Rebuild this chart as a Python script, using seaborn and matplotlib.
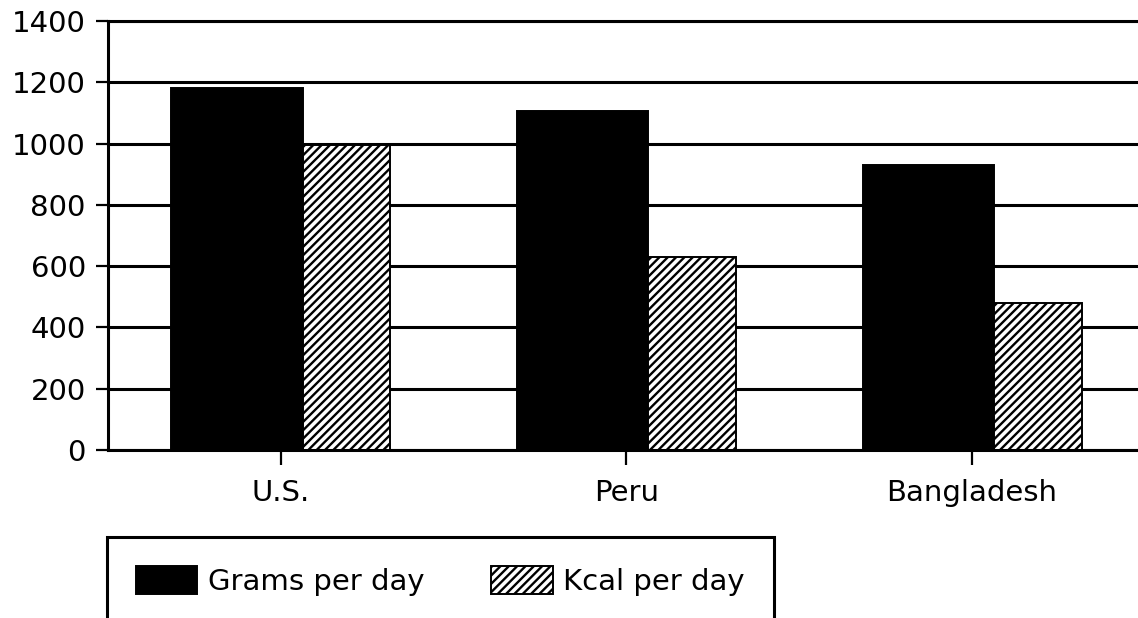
import pandas as pd
import matplotlib
matplotlib.use('Agg')
import matplotlib.pyplot as plt
import seaborn as sns

# Values
countries = ['U.S.', 'Peru', 'Bangladesh']
grams_per_day = [1180, 1105, 930]
kcal_per_day = [995, 630, 480]
series_names = ['Grams per day', 'Kcal per day']
y_ticks = [0, 200, 400, 600, 800, 1000, 1200, 1400]

df = pd.DataFrame({
    'country': countries * 2,
    'value': grams_per_day + kcal_per_day,
    'measure': [series_names[0]] * len(countries) + [series_names[1]] * len(countries),
})

sns.set_style('white')
plt.rcParams['font.family'] = ['DejaVu Sans']
plt.rcParams['text.color'] = 'black'
plt.rcParams['hatch.linewidth'] = 1.7
plt.rcParams['hatch.color'] = 'black'

fig = plt.figure(figsize=(11.38, 6.18), dpi=100)
ax = fig.add_axes([108 / 1138, 1 - 450 / 618, 1 - 108 / 1138, (450 - 21) / 618])

sns.barplot(data=df, x='country', y='value', hue='measure',
            palette=['black', 'white'], width=0.634, edgecolor='black',
            linewidth=1.4, saturation=1, legend=False, ax=ax)

# the black bars are wider than the hatched ones in the original
for p in ax.containers[0].patches:
    p.set_width(0.38)
for p in ax.containers[1].patches:
    p.set_x(p.get_x() + 0.063)
    p.set_width(0.254)
    p.set_hatch('////')

ax.set_xlim(-0.5, 2.48)
ax.set_ylim(0, 1400)
ax.set_yticks(y_ticks)
ax.set_xlabel('')
ax.set_ylabel('')

ax.yaxis.grid(True, color='black', linewidth=2.2)
ax.xaxis.grid(False)
ax.set_axisbelow(True)

for side in ['left', 'bottom', 'top']:
    ax.spines[side].set_visible(True)
    ax.spines[side].set_color('black')
    ax.spines[side].set_linewidth(2.2)
ax.spines['right'].set_visible(False)

ax.tick_params(axis='y', direction='out', length=9, width=1.6, pad=7,
               labelsize=21, colors='black', left=True)
ax.tick_params(axis='x', direction='out', length=11, width=1.6, pad=10,
               labelsize=21, colors='black', bottom=True)

leg = fig.legend(handles=[ax.containers[0].patches[0], ax.containers[1].patches[0]],
                 labels=series_names, loc='upper left',
                 bbox_to_anchor=(107 / 1138, 1 - 537 / 618),
                 ncol=2, fontsize=21, frameon=True, fancybox=False,
                 framealpha=1, edgecolor='black', handlelength=2.1,
                 handleheight=1.1, handletextpad=0.35, columnspacing=2.3,
                 borderpad=1.0, borderaxespad=0)
leg.get_frame().set_linewidth(2.2)

fig.savefig('out.png', dpi=100)
